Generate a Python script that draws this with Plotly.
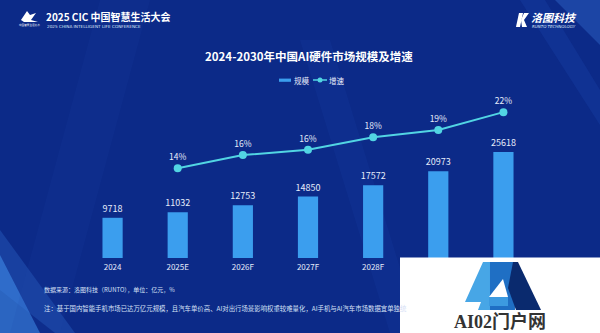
import plotly.graph_objects as go

# ---- data ----
years = ["2024", "2025E", "2026F", "2027F", "2028F", "2029F", "2030F"]
market_size = [9718, 11032, 12753, 14850, 17572, 20973, 25618]          # 亿元
growth_years = ["2025E", "2026F", "2027F", "2028F", "2029F", "2030F"]
growth_rate = [13.6, 15.6, 16.4, 18.3, 19.4, 22.1]                      # %

# ---- page geometry (pixels) ----
W, H = 600, 333
L, R, T, B = 80, 64, 88, 75
PW, PH = W - L - R, H - T - B

def px(x):
    return (x - L) / PW

def py(y):
    return (H - B - y) / PH

def path(points):
    pts = " L ".join(f"{px(x):.4f},{py(y):.4f}" for x, y in points)
    return f"M {pts} Z"

def label(text, x, y, size, color, family=None, xanchor="left"):
    return dict(text=text, x=px(x), y=py(y), xref="paper", yref="paper",
                xanchor=xanchor, yanchor="middle", showarrow=False,
                font=dict(family=family or FONT, size=size, color=color))

FONT = "Noto Sans CJK SC, Noto Sans, sans-serif"
BG = "#0c2a88"
BAR = "#3b9eee"
LINE = "#52d5e3"
TXT = "#e6ecfa"

fig = go.Figure()

fig.add_trace(go.Bar(
    x=years, y=market_size, name="规模",
    marker=dict(color=BAR, line=dict(width=0)),
    text=[str(v) for v in market_size], texttemplate="%{text}", textposition="outside",
    constraintext="none",
    textfont=dict(family=FONT, size=9, color=TXT),
    cliponaxis=False, yaxis="y",
))

fig.add_trace(go.Scatter(
    x=growth_years, y=growth_rate, name="增速", yaxis="y2",
    mode="lines+markers+text",
    line=dict(color=LINE, width=2),
    marker=dict(color=LINE, size=8),
    texttemplate="%{y:.0f}%", textposition="top center",
    textfont=dict(family=FONT, size=8.5, color=TXT),
    cliponaxis=False,
))

shapes = []
annotations = []

# soft light streaks in the background
streaks = [
    ([(0, 255), (0, 333), (40, 333)], "rgba(70,150,240,0.55)"),
    ([(0, 230), (0, 290), (55, 333), (75, 333)], "rgba(60,130,230,0.25)"),
    ([(555, 0), (600, 0), (600, 45)], "rgba(60,120,220,0.35)"),
    ([(520, 0), (545, 0), (600, 90), (600, 125)], "rgba(40,90,200,0.18)"),
    ([(300, 40), (330, 40), (420, 333), (390, 333)], "rgba(40,90,200,0.10)"),
    ([(100, 0), (150, 0), (60, 333), (10, 333)], "rgba(30,70,170,0.12)"),
]
for pts, col in streaks:
    shapes.append(dict(type="path", xref="paper", yref="paper", path=path(pts),
                       fillcolor=col, line=dict(width=0), layer="below"))

# chart title
annotations.append(label("<b>2024-2030年中国AI硬件市场规模及增速</b>", 309, 56, 11.5, "#ffffff",
                         xanchor="center"))

# legend drawn by hand
shapes.append(dict(type="rect", xref="paper", yref="paper",
                   x0=px(279), x1=px(291), y0=py(81.8), y1=py(78.6),
                   fillcolor=BAR, line=dict(width=0)))
annotations.append(label("规模", 292, 80.5, 7.5, TXT))
shapes.append(dict(type="line", xref="paper", yref="paper",
                   x0=px(313), x1=px(327), y0=py(80), y1=py(80),
                   line=dict(color=LINE, width=1.5)))
shapes.append(dict(type="circle", xref="paper", yref="paper",
                   x0=px(317.5), x1=px(322.5), y0=py(82.5), y1=py(77.5),
                   fillcolor=LINE, line=dict(width=0)))
annotations.append(label("增速", 327, 80.5, 7.5, TXT))

# header, left: conference mark and name
shapes.append(dict(type="path", xref="paper", yref="paper",
                   path=path([(21, 20), (27, 11), (30, 15), (36, 13), (31, 20), (38, 22), (24, 22)]),
                   fillcolor="#ffffff", line=dict(width=0)))
annotations.append(label("中国智慧生活大会", 29, 25.5, 2.6, "#ffffff", xanchor="center"))
annotations.append(label("<b>2025 CIC 中国智慧生活大会</b>", 44, 17, 10, "#ffffff"))
annotations.append(label("2025 CHINA INTELLIGENT LIFE CONFERENCE", 44.5, 26.5, 4.2, "#dfe6f7",
                         family="DejaVu Sans"))

# header, right: company mark and name
shapes.append(dict(type="path", xref="paper", yref="paper",
                   path=path([(519, 13), (523, 13), (520, 27), (516, 27)]),
                   fillcolor="#ffffff", line=dict(width=0)))
shapes.append(dict(type="path", xref="paper", yref="paper",
                   path=path([(524, 13), (529, 13), (524, 20), (527, 27), (522, 27), (521, 20)]),
                   fillcolor="#ffffff", line=dict(width=0)))
annotations.append(label("<b><i>洛图科技</i></b>", 529, 17, 11, "#ffffff"))
annotations.append(label("<i>RUNTO TECHNOLOGY</i>", 530, 27, 4, "#dfe6f7", family="DejaVu Sans"))

# footnotes
annotations.append(label("数据来源：洛图科技（RUNTO），单位：亿元，%", 42, 289, 6, "#d6e0f6"))
annotations.append(label(
    "注：基于国内智能手机市场已达万亿元规模，且汽车单价高、AI对出行场景影响权重较难量化，AI手机与AI汽车市场数据宜单独统",
    42, 308, 6.4, "#d6e0f6"))

# site badge in the lower right corner
shapes.append(dict(type="rect", xref="paper", yref="paper",
                   x0=px(400), x1=px(602), y0=py(335), y1=py(257.5),
                   fillcolor="#ffffff", line=dict(width=0), layer="above"))
badge = [
    ([(489, 262), (515, 262), (515, 310), (489, 310)], "#1f6fc4"),
    ([(465, 302), (483, 262), (490, 262), (490, 310), (478, 310), (481, 302)], "#47a6e6"),
    ([(513, 262), (518, 262), (541, 310), (516, 310), (508, 288)], "#0a2a6e"),
    ([(489, 297), (503, 279), (508, 297)], "#ffffff"),
    ([(489, 297), (508, 297), (508, 306), (489, 306)], "#3c9ae0"),
]
for pts, col in badge:
    shapes.append(dict(type="path", xref="paper", yref="paper", path=path(pts),
                       fillcolor=col, line=dict(width=0), layer="above"))
annotations.append(label("<b>AI02门户网</b>", 500, 321.5, 18, "#333333",
                         family="Liberation Serif, Noto Sans CJK SC", xanchor="center"))

fig.update_layout(
    width=W, height=H,
    margin=dict(l=L, r=R, t=T, b=B),
    paper_bgcolor=BG, plot_bgcolor="rgba(0,0,0,0)",
    showlegend=False,
    bargap=0.69,
    xaxis=dict(type="category", categoryorder="array", categoryarray=years,
               range=[-0.5, 6.5], showgrid=False, zeroline=False, showline=False,
               ticks="", ticklabelstandoff=3,
               tickfont=dict(family=FONT, size=8, color=TXT)),
    yaxis=dict(range=[0, 41086], visible=False, showgrid=False),
    yaxis2=dict(range=[0, 25.76], overlaying="y", visible=False, showgrid=False),
    shapes=shapes, annotations=annotations,
    font=dict(family=FONT),
)

fig.write_html("out.html")
